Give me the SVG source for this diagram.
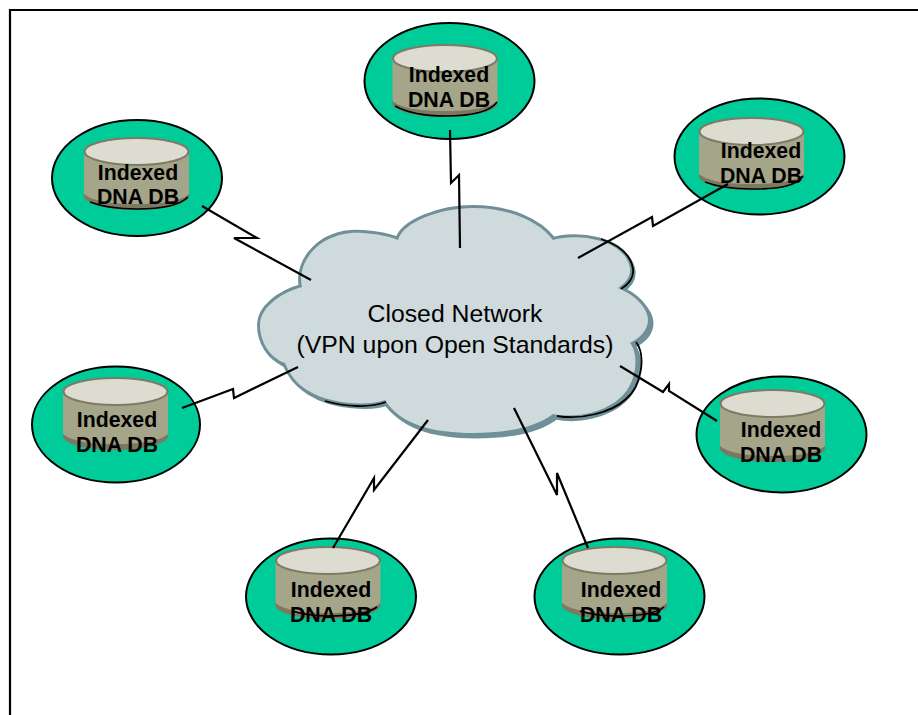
<svg xmlns="http://www.w3.org/2000/svg" width="918" height="715" viewBox="0 0 918 715">
<style>
.blob{fill:#00CC99;stroke:#000;stroke-width:2}
.body{fill:#A5A58A}
.under{fill:#7D7860}
.top{fill:#DCDDD0;stroke:#7F7A66;stroke-width:2}
.arc{fill:none;stroke:#000;stroke-width:1.6}
.lbl{font:bold 21.300px "Liberation Sans",Arial,sans-serif;fill:#000;text-anchor:middle}
.cloudt{font:24.800px "Liberation Sans",Arial,sans-serif;fill:#000;text-anchor:middle}
.bolt{fill:none;stroke:#000;stroke-width:2.200;stroke-linejoin:miter}
</style>
<defs>
<path id="cloudp" d="M398,240 C403,222 440,208 473,208 C510,208 540,222 553,240 C575,233 625,238 630,268 C631,276 626,283 618,288 C635,295 648,308 648,320 C648,330 640,338 630,343 C640,355 636,385 620,398 C605,412 575,419 553,414 C535,428 505,433 473,433 C435,433 400,425 385,400 C370,406 330,405 307,390 C297,384 290,375 285,363 C270,358 260,342 260,325 C260,308 280,293 302,287 C296,262 320,230 363,233 C377,234 388,236 398,240 Z"/>
<g id="cyl">
<path class="under" d="M0,50 V58 C0,66 24,72 52.500,72 C81,72 105,66 105,58 V50 Z"/>
<path class="body" d="M0,13.500 H105 V56 C95,64 75,66 52.500,66 C30,66 10,64 0,56 Z"/>
<ellipse class="top" cx="52.500" cy="13.500" rx="52" ry="13.500"/>
</g>
</defs>
<path d="M10,715 V10 H918" fill="none" stroke="#000" stroke-width="2.200"/>

<g id="node-top">
<ellipse class="blob" cx="449.500" cy="81" rx="85" ry="58"/>
<use href="#cyl" x="392.500" y="45"/>
<path class="arc" d="M395,106 C410,114 430,116 445,116 C470,116 490,112 497,102"/>
<text class="lbl" x="449" y="82">Indexed</text>
<text class="lbl" x="449" y="107">DNA DB</text>
</g>
<g id="node-left">
<ellipse class="blob" cx="137" cy="178" rx="85" ry="58"/>
<use href="#cyl" x="84" y="138"/>
<path class="arc" d="M90,202 C105,208 120,209 137,209 C165,209 180,205 188,197"/>
<text class="lbl" x="138" y="180">Indexed</text>
<text class="lbl" x="138" y="204">DNA DB</text>
</g>
<g id="node-right-top">
<ellipse class="blob" cx="759.500" cy="156.500" rx="85" ry="58"/>
<use href="#cyl" x="699" y="118"/>
<path class="arc" d="M705,182 C720,188 735,189 752,189 C780,189 796,186 803,176"/>
<text class="lbl" x="761" y="158">Indexed</text>
<text class="lbl" x="761" y="183">DNA DB</text>
</g>
<g id="node-left-mid">
<ellipse class="blob" cx="116" cy="424.500" rx="84" ry="58"/>
<use href="#cyl" x="63" y="378"/>
<text class="lbl" x="117" y="427">Indexed</text>
<text class="lbl" x="117" y="452">DNA DB</text>
</g>
<g id="node-right-mid">
<ellipse class="blob" cx="781.500" cy="434.500" rx="85" ry="58"/>
<use href="#cyl" x="720" y="390"/>
<text class="lbl" x="781" y="437">Indexed</text>
<text class="lbl" x="781" y="462">DNA DB</text>
</g>
<g id="node-bottom-left">
<ellipse class="blob" cx="331" cy="596.500" rx="85" ry="58"/>
<use href="#cyl" x="275.500" y="547"/>
<path class="arc" d="M292,611 C305,615 315,616 328,616 C350,616 368,614 377,607"/>
<text class="lbl" x="331" y="597">Indexed</text>
<text class="lbl" x="331" y="622">DNA DB</text>
</g>
<g id="node-bottom-right">
<ellipse class="blob" cx="619.500" cy="596.500" rx="85" ry="58"/>
<use href="#cyl" x="562" y="547"/>
<path class="arc" d="M580,611 C593,615 603,616 616,616 C638,616 656,614 664,607"/>
<text class="lbl" x="621" y="597">Indexed</text>
<text class="lbl" x="621" y="622">DNA DB</text>
</g>

<g id="node-cloud">
<use href="#cloudp" x="3" y="3" fill="#6F9097" stroke="#6F9097" stroke-width="5"/>
<use href="#cloudp" fill="#6F9097" stroke="#6F9097" stroke-width="6"/>
<path d="M601,239 C619,245 631,255 633,269 C634,277 629,284 621,289 M636,342 C646,355 642,386 626,399 C611,413 581,420 557,416" fill="none" stroke="#000" stroke-width="1.800"/>
<path d="M386,402 C370,408 345,407 325,401" fill="none" stroke="#000" stroke-width="1.800"/>
<use href="#cloudp" fill="#CFDADD"/>
<text class="cloudt" x="455" y="322">Closed Network</text>
<text class="cloudt" x="455" y="353">(VPN upon Open Standards)</text>
</g>

<g id="connectors">
<polyline class="bolt" points="450,130 451,183 459,175 460,248"/>
<polyline class="bolt" points="202,206 257,238 234,238 311,280"/>
<polyline class="bolt" points="578,258 652,217 653,226 728,184"/>
<polyline class="bolt" points="182,408 233,389 234,398 298,367"/>
<polyline class="bolt" points="620,366 663,392 669,384 669,391 717,421"/>
<polyline class="bolt" points="428,420 374,490 374,478 333,548"/>
<polyline class="bolt" points="514,408 557,495 557,473 588,548"/>
</g>
</svg>
